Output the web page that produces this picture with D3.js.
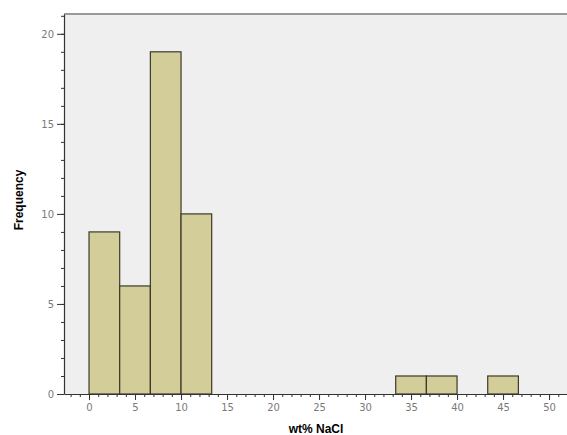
<!DOCTYPE html>
<html>
<head>
<meta charset="utf-8">
<script src="https://cdn.jsdelivr.net/npm/d3@7"></script>
<style>
  body { margin: 0; background: #fff; }
  svg { display: block; }
  .tick text { font-family: "DejaVu Sans", Arial, sans-serif; font-size: 10px; fill: #7a7a7a; }
</style>
</head>
<body>
<div id="chart"></div>
<script>
// Histogram bins (wt% NaCl), bin width 10/3
const binStarts = [0, 10/3, 20/3, 10, 40/3, 50/3, 20, 70/3, 80/3, 30, 100/3, 110/3, 40, 130/3];
const binWidth = 10 / 3;
const counts = [9, 6, 19, 10, 0, 0, 0, 0, 0, 0, 1, 1, 0, 1];
const xTicks = [0, 5, 10, 15, 20, 25, 30, 35, 40, 45, 50];
const yTicks = [0, 5, 10, 15, 20];

const W = 567, H = 435;
const plot = {left: 64, right: 567, top: 14, bottom: 394};

const svg = d3.select("#chart").append("svg")
    .attr("width", W)
    .attr("height", H);

const x = d3.scaleLinear().domain([-2.72, 51.95]).range([plot.left, plot.right]);
const y = d3.scaleLinear().domain([0, 21.1]).range([plot.bottom, plot.top]);

// plot background
svg.append("rect")
    .attr("x", plot.left).attr("y", plot.top)
    .attr("width", plot.right - plot.left).attr("height", plot.bottom - plot.top)
    .attr("fill", "#efefef");

// top border
svg.append("line")
    .attr("x1", plot.left).attr("x2", plot.right)
    .attr("y1", plot.top).attr("y2", plot.top)
    .attr("stroke", "#999").attr("stroke-width", 2);

// bars
const bars = binStarts.map((s, i) => ({x0: s, x1: s + binWidth, n: counts[i]})).filter(d => d.n > 0);
svg.selectAll(".bar")
    .data(bars)
    .enter().append("rect")
        .attr("class", "bar")
        .attr("x", d => x(d.x0))
        .attr("width", d => x(d.x1) - x(d.x0))
        .attr("y", d => y(d.n))
        .attr("height", d => y(0) - y(d.n))
        .attr("fill", "#d3cd9a")
        .attr("stroke", "#3a3a2a")
        .attr("stroke-width", 1.2);

// minor ticks
svg.append("g")
    .attr("transform", `translate(0,${plot.bottom})`)
    .call(d3.axisBottom(x).tickValues(d3.range(-2, 52, 1)).tickSize(3).tickFormat(""))
    .call(g => g.select(".domain").remove())
    .selectAll("line").attr("stroke", "#333");
svg.append("g")
    .attr("transform", `translate(${plot.left},0)`)
    .call(d3.axisLeft(y).tickValues(d3.range(0, 22, 1)).tickSize(3).tickFormat(""))
    .call(g => g.select(".domain").remove())
    .selectAll("line").attr("stroke", "#333");

// major axes
const xAxis = svg.append("g")
    .attr("transform", `translate(0,${plot.bottom})`)
    .call(d3.axisBottom(x).tickValues(xTicks).tickSize(6).tickSizeOuter(0).tickPadding(4));
xAxis.select(".domain").attr("stroke", "#333").attr("stroke-width", 1.2);
xAxis.selectAll("line").attr("stroke", "#333");

const yAxis = svg.append("g")
    .attr("transform", `translate(${plot.left},0)`)
    .call(d3.axisLeft(y).tickValues(yTicks).tickSize(7).tickSizeOuter(0).tickPadding(3));
yAxis.select(".domain").attr("stroke", "#333").attr("stroke-width", 1.2);
yAxis.selectAll("line").attr("stroke", "#333");

// axis titles
svg.append("text")
    .attr("x", 316).attr("y", 433)
    .attr("text-anchor", "middle")
    .style("font-family", "Liberation Sans, Arial, sans-serif")
    .style("font-size", "12px")
    .style("font-weight", "bold")
    .text("wt% NaCl");

svg.append("text")
    .attr("transform", "translate(23,200) rotate(-90)")
    .attr("text-anchor", "middle")
    .style("font-family", "Liberation Sans, Arial, sans-serif")
    .style("font-size", "12px")
    .style("font-weight", "bold")
    .text("Frequency");
</script>
</body>
</html>
